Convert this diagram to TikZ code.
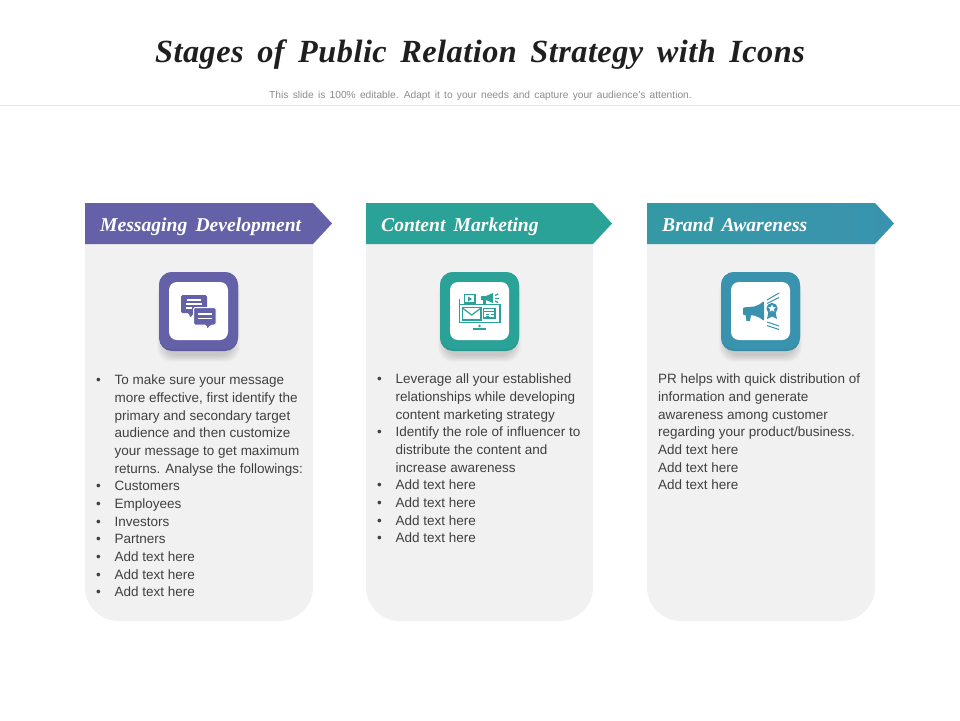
\documentclass[tikz,border=0pt]{standalone}
\usepackage{fontspec}
\setmainfont{Liberation Sans}
\newfontfamily\serifhead{Liberation Serif}
\definecolor{purpleA}{HTML}{6461A9}
\definecolor{tealA}{HTML}{2BA297}
\definecolor{blueA}{HTML}{3A93AE}
\definecolor{panelgray}{HTML}{F1F1F1}
\definecolor{bodytext}{HTML}{404040}
\newcommand{\bul}{\makebox[18.5pt][l]{•}}
\newcommand{\cont}{\hspace*{18.5pt}}
\tikzset{
  x=1pt,y=-1pt,
  paneltext/.style={anchor=north west,inner sep=0pt,align=left,text=bodytext,
    font=\fontsize{13.5}{17.65}\selectfont},
  headtext/.style={anchor=base west,inner sep=0pt,text=white,
    font=\serifhead\bfseries\itshape\fontsize{19.6}{24}\selectfont},
  whiteline/.style={draw=white,line width=1.3pt},
  whitebox/.style={fill=white,rounded corners=8pt},
}
\newcommand{\card}[6]{% x0, x1, tip, colorL, colorR, iconleft
  \fill[panelgray,rounded corners=34pt] (#1,225) -- (#2,225) -- (#2,621) -- (#1,621) -- cycle;
  \fill[panelgray] (#1,225) rectangle (#2,262);
  \shade[left color=#4,right color=#5] (#1,203) -- (#2,203) -- (#3,223.5) -- (#2,244) -- (#1,244) -- cycle;
  \foreach \g in {0,1,...,9}{
    \fill[black,opacity=0.016,rounded corners=14pt]
      ({#6-2+\g*0.7},{278+\g*0.7}) rectangle ({#6+81-\g*0.7},{362-\g*0.7});
  }
  \fill[#5,rounded corners=13pt] (#6,272) rectangle (#6+79,351);
  \fill[black,opacity=0.05,rounded corners=13pt] (#6,278) -- (#6+79,278) -- (#6+79,351) -- (#6,351) -- cycle;
  \fill[#5,rounded corners=13pt] (#6,272) rectangle (#6+79,349);
  \fill[whitebox] (#6+10,282) rectangle (#6+69,340);
}
\begin{document}
\begin{tikzpicture}
\useasboundingbox (0,0) rectangle (960,720);
\fill[white] (0,0) rectangle (960,720);
\draw[draw=black!9,line width=0.8pt] (0,105.5) -- (960,105.5);
\node[anchor=base,inner sep=0pt,font=\serifhead\bfseries\itshape\fontsize{32.3}{40}\selectfont,text=black!88] (title) at (480,62)
  {\addfontfeature{LetterSpace=1.5}\spaceskip=0.42em Stages of Public Relation Strategy with Icons};
\node[anchor=base,inner sep=0pt,font=\fontsize{10.2}{12}\selectfont,text=black!45] (subtitle) at (480.5,98)
  {\spaceskip=0.42em This slide is 100\% editable. Adapt it to your needs and capture your audience's attention.};

\card{85}{313}{332}{purpleA}{purpleA}{159}
\card{366}{593}{612}{tealA}{tealA}{440}
\card{647}{875}{894}{blueA!60!tealA}{blueA}{721}

\node[headtext] (h1) at (100,231) {\spaceskip=0.42em Messaging Development};
\node[headtext] (h2) at (381,231) {\spaceskip=0.42em Content Marketing};
\node[headtext] (h3) at (662,231) {\spaceskip=0.42em Brand Awareness};

\node[paneltext] (t1) at (96,375) {%
\bul To make sure your message\\
\cont more effective, first identify the\\
\cont primary and secondary target\\
\cont audience and then customize\\
\cont your message to get maximum\\
\cont returns. Analyse the followings:\\
\bul Customers\\
\bul Employees\\
\bul Investors\\
\bul Partners\\
\bul Add text here\\
\bul Add text here\\
\bul Add text here};
\node[paneltext] (t2) at (377,374) {%
\bul Leverage all your established\\
\cont relationships while developing\\
\cont content marketing strategy\\
\bul Identify the role of influencer to\\
\cont distribute the content and\\
\cont increase awareness\\
\bul Add text here\\
\bul Add text here\\
\bul Add text here\\
\bul Add text here};
\node[paneltext] (t3) at (658,374) {%
PR helps with quick distribution of\\
information and generate\\
awareness among customer\\
regarding your product/business.\\
Add text here\\
Add text here\\
Add text here};

% chat icon
\fill[purpleA,rounded corners=1.5pt] (181,295) -- (207,295) -- (207,313) -- (194,313) -- (190,318) -- (189,313) -- (181,313) -- cycle;
\fill[purpleA,draw=white,line width=1pt,rounded corners=1.5pt] (193.5,307.5) -- (216,307.5) -- (216,325) -- (211,325) -- (207,330) -- (206,325) -- (193.5,325) -- cycle;
\draw[whiteline] (187,300) -- (201,300) (186,304) -- (202,304) (186,308) -- (192,308);
\draw[whiteline] (198,314) -- (212,314) (198,318.5) -- (212,318.5);

% content marketing icon
\begin{scope}[tealA]
\draw[line width=1.4pt] (464.5,294.5) rectangle (475,303);
\fill (468,296.5) -- (472,299) -- (468,301.5) -- cycle;
\fill (481,296) -- (486,296) -- (493,293) -- (493,303) -- (486,300) -- (481,300) -- cycle;
\fill (483,300) rectangle (486,304);
\draw[line width=1.2pt] (495,295.5) -- (498,294) (495,298.5) -- (499,298.5) (495,301) -- (498,302.5);
\draw[line width=1.4pt] (459.5,299) -- (459.5,322.5) -- (500,322.5) (459.5,304.5) -- (500,304.5) -- (500,322.5);
\fill[white] (461,306) rectangle (497,321);
\draw[line width=1.3pt] (462.5,307.5) rectangle (481,320);
\draw[line width=1.2pt] (462.5,308) -- (471.7,315) -- (481,308);
\draw[line width=1.2pt] (483.5,308.5) rectangle (495,318);
\draw[line width=1pt] (483.5,311) -- (495,311) (485.5,314) -- (489,314) (491,314) -- (493.5,314) (485.5,316) -- (489,316);
\fill (479.5,326) circle (1.4pt);
\draw[line width=1.3pt] (473,329) -- (486,329);
\end{scope}

% megaphone icon
\begin{scope}[blueA]
\fill[rounded corners=1pt] (743,307.5) -- (754,306.5) .. controls (758,305.5) and (761,303.5) .. (764,301) -- (764,321) .. controls (761,318.5) and (758,316.5) .. (754,315.5) -- (743,315) -- cycle;
\fill (745.5,315) -- (751,315) -- (750,321) -- (746.5,321) -- cycle;
\fill (772,308.5) circle (5.6pt);
\fill (768.5,312) -- (775.5,312) -- (777,319) -- (772,316.5) -- (767,319) -- cycle;
\fill[white] (772,304.5) -- (773.1,307.1) -- (775.8,307.3) -- (773.7,309.1) -- (774.4,311.8) -- (772,310.3) -- (769.6,311.8) -- (770.3,309.1) -- (768.2,307.3) -- (770.9,307.1) -- cycle;
\draw[line width=1pt] (767,300) -- (779,293) (767,303.5) -- (779,297.5) (767,322) -- (779,326) (767,325.5) -- (779,329.5);
\end{scope}
\end{tikzpicture}
\end{document}
